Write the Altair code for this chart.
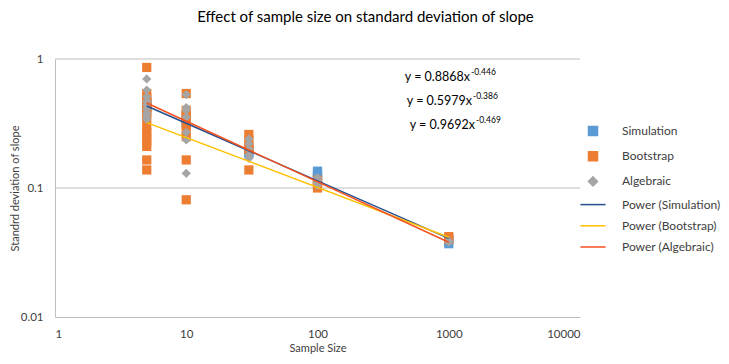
import altair as alt
import pandas as pd

# ---- data ----
sim_n = [5, 5, 5, 5, 5, 10, 10, 10, 10, 30, 30, 30, 100, 100, 100, 100, 100, 1000, 1000, 1000]
sim_sd = [0.47, 0.45, 0.44, 0.42, 0.41, 0.37, 0.35, 0.33, 0.32, 0.20, 0.19, 0.185, 0.135, 0.13, 0.125, 0.12, 0.115, 0.041, 0.039, 0.037]

boot_n = [5] * 14 + [10] * 9 + [30] * 5 + [100] * 4 + [1000] * 2
boot_sd = [0.86, 0.54, 0.50, 0.46, 0.42, 0.38, 0.35, 0.30, 0.27, 0.25, 0.23, 0.21, 0.165, 0.138,
           0.54, 0.40, 0.37, 0.34, 0.31, 0.28, 0.25, 0.165, 0.081,
           0.26, 0.235, 0.21, 0.20, 0.138,
           0.115, 0.11, 0.105, 0.10,
           0.042, 0.040]

alg_n = [5] * 9 + [10] * 7 + [30] * 5 + [100] * 4 + [1000] * 2
alg_sd = [0.70, 0.575, 0.51, 0.47, 0.44, 0.41, 0.38, 0.36, 0.34,
          0.53, 0.42, 0.40, 0.355, 0.27, 0.236, 0.13,
          0.24, 0.22, 0.20, 0.18, 0.17,
          0.12, 0.115, 0.11, 0.105,
          0.039, 0.038]

# power trendlines y = a * x^b (coefficients as printed on the chart)
trend_names = ["Power (Simulation)", "Power (Bootstrap)", "Power (Algebraic)"]
trend_a = [0.8868, 0.5979, 0.9692]
trend_b = [-0.446, -0.386, -0.469]
trend_x = [5, 1000]

eq_main = ["y = 0.8868x", "y = 0.5979x", "y = 0.9692x"]
eq_exp = ["-0.446", "-0.386", "-0.469"]
eq_x = [1452, 1504, 1585]
eq_y = [0.725, 0.473, 0.308]

series_domain = ["Simulation", "Bootstrap", "Algebraic",
                 "Power (Simulation)", "Power (Bootstrap)", "Power (Algebraic)"]
series_colors = ["#5B9BD5", "#ED7D31", "#A5A5A5", "#264F8F", "#FFC000", "#F4511E"]
series_shapes = ["square", "square", "diamond", "M-2.8,0H2.8", "M-2.8,0H2.8", "M-2.8,0H2.8"]

grid_vals = [0.1, 1]

# ---- tables ----
pts = pd.concat([
    pd.DataFrame({"n": sim_n, "sd": sim_sd, "series": "Simulation"}),
    pd.DataFrame({"n": boot_n, "sd": boot_sd, "series": "Bootstrap"}),
    pd.DataFrame({"n": alg_n, "sd": alg_sd, "series": "Algebraic"}),
], ignore_index=True)
pts["order"] = range(len(pts))

rows = []
for name, a, b in zip(trend_names, trend_a, trend_b):
    for xv in trend_x:
        rows.append({"n": xv, "sd": a * xv ** b, "series": name})
lines = pd.DataFrame(rows)

eqs = pd.DataFrame({"n": eq_x, "sd": eq_y, "main": eq_main, "exp": eq_exp})
grid = pd.DataFrame({"g": grid_vals})

FONT = "Lato"
xscale = alt.Scale(type="log", domain=[1, 10000])
yscale = alt.Scale(type="log", domain=[0.01, 1])
cscale = alt.Scale(domain=series_domain, range=series_colors)
sscale = alt.Scale(domain=series_domain, range=series_shapes)

xaxis = alt.Axis(title="Sample Size", values=[1, 10, 100, 1000, 10000], format="~g",
                 grid=False, domain=True, domainColor="#BFBFBF", ticks=False, labelPadding=11,
                 labelFontSize=11.5, titleFontSize=11, titlePadding=3,
                 labelColor="#404040", titleColor="#404040", titleFontWeight="normal",
                 labelFont=FONT, titleFont=FONT)
yaxis = alt.Axis(title="Standrd deviation of slope", values=[0.01, 0.1, 1], format="~g",
                 grid=False, domain=True, domainColor="#BFBFBF", ticks=False, labelPadding=12,
                 labelFontSize=11.5, titleFontSize=11, titlePadding=0,
                 labelColor="#404040", titleColor="#404040", titleFontWeight="normal",
                 labelFont=FONT, titleFont=FONT)

legend = alt.Legend(
    title=None, orient="none", legendX=532, legendY=66,
    labelFont=FONT, labelFontSize=12, labelColor="#404040", labelLimit=200,
    symbolSize=81, rowPadding=9.2, labelOffset=23,
    symbolStrokeWidth=1.5, symbolOpacity=1,
    symbolStrokeColor=alt.expr("scale('color', datum.value)"),
    symbolFillColor=alt.expr("scale('color', datum.value)"),
)

gridlayer = alt.Chart(grid).mark_rule(color="#BFBFBF", strokeWidth=1).encode(
    y=alt.Y("g:Q", scale=yscale, axis=yaxis)
)

points = alt.Chart(pts).mark_point(filled=True, opacity=1, size=85).encode(
    x=alt.X("n:Q", scale=xscale, axis=xaxis),
    y=alt.Y("sd:Q", scale=yscale, axis=yaxis),
    color=alt.Color("series:N", scale=cscale, legend=legend),
    shape=alt.Shape("series:N", scale=sscale, legend=legend),
    order=alt.Order("order:Q"),
)

trend = alt.Chart(lines).mark_line(strokeWidth=1.5).encode(
    x=alt.X("n:Q", scale=xscale),
    y=alt.Y("sd:Q", scale=yscale),
    color=alt.Color("series:N", scale=cscale, legend=legend),
    detail="series:N",
)

eq_text = alt.Chart(eqs).mark_text(align="right", baseline="middle", font=FONT,
                                   fontSize=12.5, color="#000000").encode(
    x=alt.X("n:Q", scale=xscale), y=alt.Y("sd:Q", scale=yscale), text="main:N")
eq_sup = alt.Chart(eqs).mark_text(align="left", baseline="middle", font=FONT,
                                  fontSize=8.5, dy=-5, dx=1, color="#000000").encode(
    x=alt.X("n:Q", scale=xscale), y=alt.Y("sd:Q", scale=yscale), text="exp:N")

chart = alt.layer(gridlayer, points, trend, eq_text, eq_sup).properties(
    width=525, height=258,
    autosize=alt.AutoSizeParams(type="none"),
    padding={"left": 47, "top": 51, "right": 141, "bottom": 39},
    title=alt.TitleParams("Effect of sample size on standard deviation of slope",
                          anchor="middle", dx=48, offset=28, font=FONT, fontSize=15,
                          fontWeight="normal", color="#000000"),
).configure_view(stroke=None)

chart.save("out.html", embed_options={"renderer": "svg", "actions": False})
